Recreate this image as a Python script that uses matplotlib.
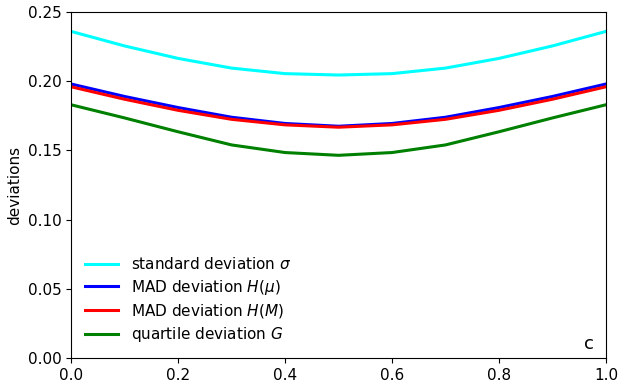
import numpy as np
import matplotlib.pyplot as plt

x = [0.0, 0.1, 0.2, 0.3, 0.4, 0.5, 0.6, 0.7, 0.8, 0.9, 1.0]
sigma = [0.236, 0.2255, 0.2165, 0.2095, 0.2055, 0.2045, 0.2055, 0.2095, 0.2165, 0.2255, 0.236]
mad_mu = [0.198, 0.189, 0.181, 0.174, 0.1695, 0.1675, 0.1695, 0.174, 0.181, 0.189, 0.198]
mad_m = [0.196, 0.187, 0.179, 0.1725, 0.1685, 0.1668, 0.1685, 0.1725, 0.179, 0.187, 0.196]
quart = [0.183, 0.1735, 0.1635, 0.154, 0.1485, 0.1465, 0.1485, 0.154, 0.1635, 0.1735, 0.183]

fig = plt.figure(figsize=(6.24, 3.88), dpi=100)
ax = fig.add_axes([0.114, 0.077, 0.857, 0.892])

ax.plot(x, sigma, color='cyan', lw=2.2, label=r'standard deviation $\sigma$')
ax.plot(x, mad_mu, color='blue', lw=2.2, label=r'MAD deviation $H(\mu)$')
ax.plot(x, mad_m, color='red', lw=2.2, label=r'MAD deviation $H(M)$')
ax.plot(x, quart, color='green', lw=2.2, label=r'quartile deviation $G$')

ax.set_xlim(0, 1)
ax.set_ylim(0, 0.25)
ax.set_ylabel('deviations', fontsize=11)
ax.tick_params(labelsize=11)
ax.text(0.977, 0.015, 'c', transform=ax.transAxes, fontsize=13, ha='right', va='bottom')
ax.legend(loc='lower left', bbox_to_anchor=(0.0, 0.0), frameon=False, fontsize=11,
          handlelength=2.2, labelspacing=0.35)

fig.savefig('out.png')
